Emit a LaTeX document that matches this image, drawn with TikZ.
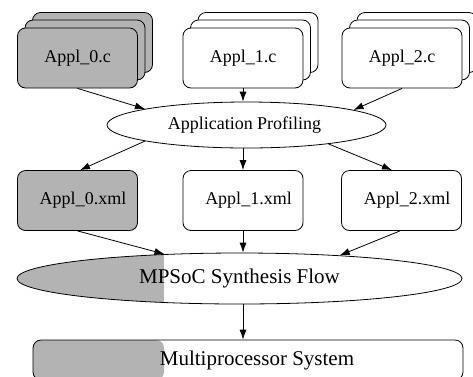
\documentclass[tikz,border=0pt]{standalone}
\usepackage{fontspec}
\setmainfont{Liberation Serif}
\usetikzlibrary{shapes.geometric,arrows.meta}
\definecolor{lgray}{RGB}{179,179,179}
\begin{document}
\begin{tikzpicture}[x=1pt,y=-1pt,
  every node/.style={inner sep=0pt, line width=0.8pt},
  box/.style={draw, rounded corners=8pt, minimum width=120pt, minimum height=60pt, fill=white},
  gbox/.style={box, fill=lgray},
  oval/.style={draw, ellipse, fill=white},
  lbl/.style={font=\fontsize{18}{20}\selectfont},
  big/.style={font=\fontsize{21}{24}\selectfont},
  arr/.style={draw, line width=0.8pt, -{Latex[length=10pt,width=7pt]}}]
\useasboundingbox (0,0) rectangle (473,376);
\clip (0,0) rectangle (473,376);
% stack 0
\node[gbox] (s0b) at (92.5,42.5) {};
\node[gbox] (s0m) at (85,50) {};
\node[gbox,lbl] (s0) at (77.5,58) {\raisebox{-3pt}{Appl\_0.c}\hspace{8pt}};
% stack 1
\node[box] (s1b) at (258,42.5) {};
\node[box] (s1m) at (250.5,50) {};
\node[box,lbl] (s1) at (243,58) {\raisebox{-3pt}{Appl\_1.c}\hspace{8pt}};
% stack 2
\node[box] (s2b) at (417,42.5) {};
\node[box] (s2m) at (409.5,50) {};
\node[box,lbl] (s2) at (402,58) {\raisebox{-3pt}{Appl\_2.c}\hspace{8pt}};
% profiling
\node[oval,lbl,minimum width=279pt,minimum height=46pt] (prof) at (246.5,125) {\hspace{-4pt}Application Profiling};
% xml
\node[gbox,lbl] (x0) at (77.5,200.5) {\hspace{11pt}Appl\_0.xml};
\node[box,lbl] (x1) at (243,200.5) {\hspace{11pt}Appl\_1.xml};
\node[box,lbl] (x2) at (401.5,200.5) {\hspace{11pt}Appl\_2.xml};
% synthesis
\node[oval,big,minimum width=445pt,minimum height=51pt,
  path picture={\fill[lgray] (path picture bounding box.north west) rectangle ([xshift=147pt]path picture bounding box.south west);}]
  (mp) at (239.5,278.5) {\raisebox{-2pt}{MPSoC Synthesis Flow}};
% system
\node[draw,rounded corners=8pt,fill=white,big,minimum width=430pt,minimum height=40pt,
  path picture={\fill[lgray] (path picture bounding box.north west) rectangle ([xshift=131pt]path picture bounding box.south west);}]
  (sys) at (248,360) {\hspace{18pt}Multiprocessor System};
% connectors
\draw[arr] (s0.south) -- (prof.171);
\draw[arr] (s1.south) -- (s1.south |- prof.north);
\draw[arr] (s2.south) -- (prof.8.5);
\draw[arr] (prof.189.5) -- ([xshift=2.5pt]x0.north);
\draw[arr] (x1.north |- prof.south) -- (x1.north);
\draw[arr] (prof.347) -- ([xshift=-9.5pt]x2.north);
\draw[arr] (x0.south) -- (mp.162);
\draw[arr] (x1.south) -- (x1.south |- mp.north);
\draw[arr] ([xshift=-1.5pt]x2.south) -- (mp.13.5);
\draw[arr] (x1.south |- mp.south) -- (x1.south |- sys.north);
\end{tikzpicture}
\end{document}
